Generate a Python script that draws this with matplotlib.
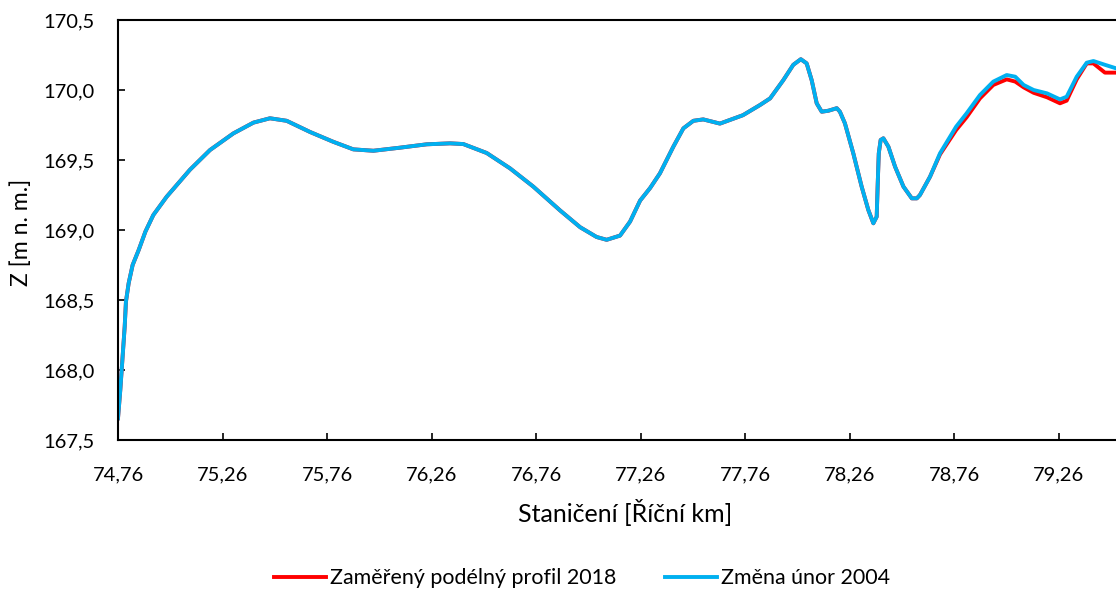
import matplotlib
matplotlib.use("Agg")
import matplotlib.pyplot as plt

plt.rcParams['font.family'] = ['Lato', 'DejaVu Sans']

# Staničení [km] a výšky Z [m n. m.] - změna únor 2004
km_2004 = [74.760, 74.771, 74.782, 74.792, 74.798, 74.811, 74.830, 74.859, 74.891, 74.929,
           74.993, 75.104, 75.200, 75.312, 75.408, 75.487, 75.567, 75.679, 75.790, 75.886,
           75.982, 76.109, 76.237, 76.349, 76.412, 76.524, 76.636, 76.747, 76.875, 76.971,
           77.050, 77.098, 77.162, 77.210, 77.258, 77.306, 77.353, 77.417, 77.465, 77.513,
           77.560, 77.640, 77.750, 77.832, 77.880, 77.943, 77.991, 78.027, 78.055, 78.079,
           78.103, 78.127, 78.159, 78.199, 78.214, 78.238, 78.278, 78.318, 78.350, 78.374,
           78.390, 78.395, 78.400, 78.409, 78.422, 78.446, 78.478, 78.518, 78.558, 78.582,
           78.597, 78.645, 78.693, 78.770, 78.820, 78.884, 78.948, 79.012, 79.053, 79.093,
           79.141, 79.205, 79.267, 79.299, 79.347, 79.395, 79.427, 79.482, 79.535]
z_2004 = [167.655, 167.857, 168.095, 168.31, 168.488, 168.62, 168.75, 168.857, 168.988, 169.107,
          169.238, 169.43, 169.571, 169.69, 169.767, 169.798, 169.78, 169.70, 169.63, 169.576,
          169.566, 169.588, 169.612, 169.619, 169.614, 169.55, 169.44, 169.31, 169.14, 169.02,
          168.95, 168.93, 168.96, 169.06, 169.21, 169.30, 169.405, 169.595, 169.726, 169.78,
          169.79, 169.76, 169.82, 169.893, 169.94, 170.07, 170.18, 170.22, 170.19, 170.07,
          169.905, 169.845, 169.852, 169.87, 169.845, 169.762, 169.548, 169.31, 169.143, 169.048,
          169.095, 169.333, 169.548, 169.643, 169.655, 169.595, 169.452, 169.31, 169.226, 169.226,
          169.25, 169.38, 169.548, 169.738, 169.833, 169.964, 170.06, 170.107, 170.095, 170.036,
          170.00, 169.976, 169.933, 169.952, 170.095, 170.195, 170.207, 170.18, 170.155]

# zaměřený podélný profil 2018
km_2018 = [74.760, 74.771, 74.782, 74.792, 74.798, 74.811, 74.830, 74.859, 74.891, 74.929,
           74.993, 75.104, 75.200, 75.312, 75.408, 75.487, 75.567, 75.679, 75.790, 75.886,
           75.982, 76.109, 76.237, 76.349, 76.412, 76.524, 76.636, 76.747, 76.875, 76.971,
           77.050, 77.098, 77.162, 77.210, 77.258, 77.306, 77.353, 77.417, 77.465, 77.513,
           77.560, 77.640, 77.750, 77.832, 77.880, 77.943, 77.991, 78.027, 78.055, 78.079,
           78.103, 78.127, 78.159, 78.199, 78.214, 78.238, 78.278, 78.318, 78.350, 78.374,
           78.390, 78.395, 78.400, 78.409, 78.422, 78.446, 78.478, 78.518, 78.558, 78.582,
           78.597, 78.645, 78.693, 78.770, 78.820, 78.884, 78.948, 79.012, 79.053, 79.093,
           79.141, 79.205, 79.267, 79.299, 79.347, 79.395, 79.427, 79.482, 79.535]
z_2018 = [167.655, 167.857, 168.095, 168.31, 168.488, 168.62, 168.75, 168.857, 168.988, 169.107,
          169.238, 169.43, 169.571, 169.69, 169.767, 169.798, 169.78, 169.70, 169.63, 169.576,
          169.566, 169.588, 169.612, 169.619, 169.614, 169.55, 169.44, 169.31, 169.14, 169.02,
          168.95, 168.93, 168.96, 169.06, 169.21, 169.30, 169.405, 169.595, 169.726, 169.78,
          169.79, 169.76, 169.82, 169.893, 169.94, 170.07, 170.18, 170.22, 170.19, 170.07,
          169.905, 169.845, 169.852, 169.87, 169.845, 169.762, 169.548, 169.31, 169.143, 169.048,
          169.095, 169.333, 169.548, 169.643, 169.655, 169.595, 169.452, 169.31, 169.226, 169.226,
          169.25, 169.38, 169.54, 169.714, 169.805, 169.94, 170.036, 170.076, 170.06, 170.019,
          169.98, 169.948, 169.905, 169.924, 170.076, 170.19, 170.19, 170.124, 170.124]

x_ticks = [74.76, 75.26, 75.76, 76.26, 76.76, 77.26, 77.76, 78.26, 78.76, 79.26]
y_ticks = [167.5, 168.0, 168.5, 169.0, 169.5, 170.0, 170.5]

fig = plt.figure(figsize=(11.16, 5.9), dpi=100)
ax = fig.add_axes([118 / 1116, 1 - 440 / 590, 1 - 118 / 1116, 420 / 590])

ax.plot(km_2018, z_2018, color="#FF0000", lw=2.8, solid_joinstyle="round",
        label="Zaměřený podélný profil 2018")
ax.plot(km_2004, z_2004, color="#00B0F0", lw=2.8, solid_joinstyle="round",
        label="Změna únor 2004")

ax.set_xlim(74.76, 79.535)
ax.set_ylim(167.5, 170.5)
ax.set_xticks(x_ticks)
ax.set_xticklabels([f"{v:.2f}".replace(".", ",") for v in x_ticks])
ax.set_yticks(y_ticks)
ax.set_yticklabels([f"{v:.1f}".replace(".", ",") for v in y_ticks])
ax.tick_params(direction="in", length=5, width=1.2, labelsize=14.5)
ax.tick_params(axis="x", pad=19)
ax.tick_params(axis="y", pad=16.5)

for s in ["left", "bottom", "top"]:
    ax.spines[s].set_linewidth(1.5)
    ax.spines[s].set_color("black")
ax.spines["right"].set_visible(False)

fig.text(625 / 1116, 1 - 512 / 590, "Staničení [Říční km]", ha="center", va="center", fontsize=18)
fig.text(21 / 1116, 1 - 232 / 590, "Z [m n. m.]", ha="center", va="center", rotation=90, fontsize=16.6)

fig.legend(loc="center", bbox_to_anchor=(582 / 1116, 1 - 578 / 590), ncol=2, frameon=False,
           fontsize=15.4, handlelength=2.43, handletextpad=0.19, columnspacing=2.24)

fig.savefig("out.png", dpi=100)
